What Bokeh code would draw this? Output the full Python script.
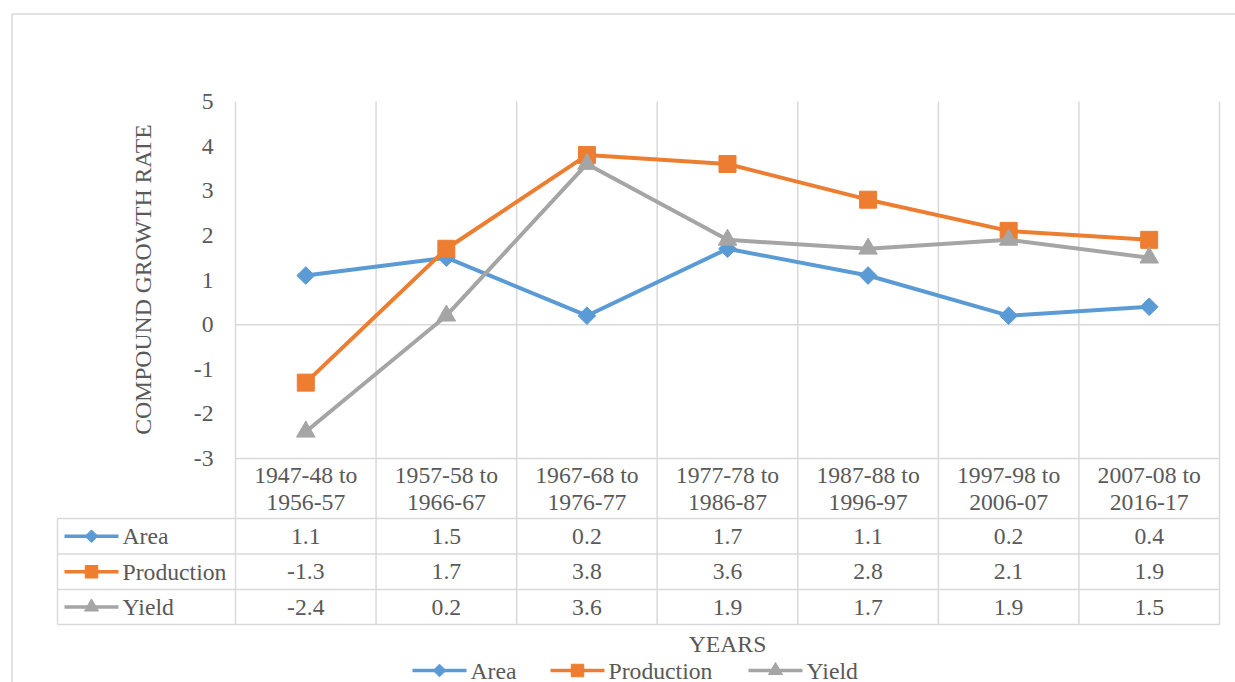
import numpy as np
from bokeh.plotting import figure
from bokeh.models import Range1d
from bokeh.core.properties import value
from bokeh.embed import file_html
from bokeh.resources import INLINE

# ---------------- data ----------------
categories = ["1947-48 to 1956-57", "1957-58 to 1966-67", "1967-68 to 1976-77",
              "1977-78 to 1986-87", "1987-88 to 1996-97", "1997-98 to 2006-07",
              "2007-08 to 2016-17"]
area = [1.1, 1.5, 0.2, 1.7, 1.1, 0.2, 0.4]
production = [-1.3, 1.7, 3.8, 3.6, 2.8, 2.1, 1.9]
yield_ = [-2.4, 0.2, 3.6, 1.9, 1.7, 1.9, 1.5]
series_names = ["Area", "Production", "Yield"]
y_ticks = [-3, -2, -1, 0, 1, 2, 3, 4, 5]
y_title = "COMPOUND GROWTH RATE"
x_title = "YEARS"

# ---------------- styles / layout ----------------
colors = ["#5B9BD5", "#ED7D31", "#A5A5A5"]
TEXT = "#595959"
GRID = "#D9D9D9"
FONT = value("Liberation Serif")
FS = "23.7px"

W, H, OFF = 1235, 682, 0
PLOT_L, PLOT_R, PLOT_T, PLOT_B = 235, 1219, 101, 458
Y_MAX, Y_MIN = y_ticks[-1], y_ticks[0]
n = len(categories)
cw = (PLOT_R - PLOT_L) / n
ppu = (PLOT_B - PLOT_T) / (Y_MAX - Y_MIN)


def X(px):
    return (px - PLOT_L) / cw - 0.5


def Y(py):
    return Y_MAX - (py - PLOT_T) / ppu


TABLE_L = 57
ROWS = [518, 553.5, 589, 624]

p = figure(width=W, height=H, x_range=Range1d(X(OFF), X(OFF + W)),
           y_range=Range1d(Y(OFF + H), Y(OFF)), output_backend="svg",
           toolbar_location=None, x_axis_type=None, y_axis_type=None,
           min_border=0, outline_line_color=None, background_fill_color="white")

# outer chart border
p.segment(x0=[X(11.5), X(11.5)], y0=[Y(13.5), Y(13.5)],
          x1=[X(11.5), X(OFF + W)], y1=[Y(OFF + H), Y(13.5)],
          line_color=GRID, line_width=1.5)

# vertical grid / table lines
xb = [i - 0.5 for i in range(n + 1)]
p.segment(x0=xb, y0=[Y_MAX] * len(xb), x1=xb, y1=[Y(ROWS[-1])] * len(xb),
          line_color=GRID, line_width=1.5)
p.segment(x0=[X(TABLE_L)], y0=[Y(ROWS[0])], x1=[X(TABLE_L)], y1=[Y(ROWS[-1])],
          line_color=GRID, line_width=1.5)
# horizontal: zero line and table top
p.segment(x0=[-0.5, -0.5], y0=[0, Y_MIN], x1=[n - 0.5, n - 0.5], y1=[0, Y_MIN],
          line_color=GRID, line_width=1.5)
ry = [Y(r) for r in ROWS]
p.segment(x0=[X(TABLE_L)] * len(ry), y0=ry, x1=[n - 0.5] * len(ry), y1=ry,
          line_color=GRID, line_width=1.5)

txt = dict(text_font=FONT, text_font_size=FS, text_color=TEXT)

# y tick labels & title
p.text(x=[X(213)] * len(y_ticks), y=y_ticks, text=[str(t) for t in y_ticks],
       text_align="right", text_baseline="middle", **txt)
p.text(x=[X(142)], y=[Y(279)], text=[y_title], angle=np.pi / 2,
       text_align="center", text_baseline="middle", **txt)

# category labels (table header)
line1 = [c.split(" to ")[0] + " to" for c in categories]
line2 = [c.split(" to ")[1] for c in categories]
xs = list(range(n))
p.text(x=xs, y=[Y(474)] * n, text=line1, text_align="center", text_baseline="middle", **txt)
p.text(x=xs, y=[Y(502)] * n, text=line2, text_align="center", text_baseline="middle", **txt)

# series lines and markers
series = [area, production, yield_]
markers = [dict(marker="square", angle=np.pi / 4, size=12.5),
           dict(marker="square", size=17),
           dict(marker="triangle", size=18.5)]
key_markers = [dict(marker="square", angle=np.pi / 4, size=9),
               dict(marker="square", size=12.5),
               dict(marker="triangle", size=14)]
for vals, col, mk in zip(series, colors, markers):
    p.line(x=xs, y=vals, line_color=col, line_width=4, line_join="round")
    p.scatter(x=xs, y=vals, fill_color=col, line_color=col, **mk)

# table rows
for k, (name, vals, col, km) in enumerate(zip(series_names, series, colors, key_markers)):
    yc = Y((ROWS[k] + ROWS[k + 1]) / 2)
    p.text(x=xs, y=[yc] * n, text=["%.1f" % v for v in vals],
           text_align="center", text_baseline="middle", **txt)
    p.segment(x0=[X(64)], y0=[yc], x1=[X(118)], y1=[yc], line_color=col, line_width=3.5)
    p.scatter(x=[X(91)], y=[yc], fill_color=col, line_color=col, **km)
    p.text(x=[X(122)], y=[yc], text=[name], text_align="left", text_baseline="middle", **txt)

# x title
p.text(x=[(n - 1) / 2], y=[Y(643)], text=[x_title], text_align="center",
       text_baseline="middle", **txt)

# bottom legend
leg_y = Y(670)
leg_start = [412, 550, 748]
for name, col, km, sx in zip(series_names, colors, key_markers, leg_start):
    p.segment(x0=[X(sx)], y0=[leg_y], x1=[X(sx + 54)], y1=[leg_y], line_color=col, line_width=3.5)
    p.scatter(x=[X(sx + 27)], y=[leg_y], fill_color=col, line_color=col, **km)
    p.text(x=[X(sx + 58)], y=[leg_y], text=[name], text_align="left",
           text_baseline="middle", **txt)

open("out.html", "w").write(file_html(p, INLINE))
